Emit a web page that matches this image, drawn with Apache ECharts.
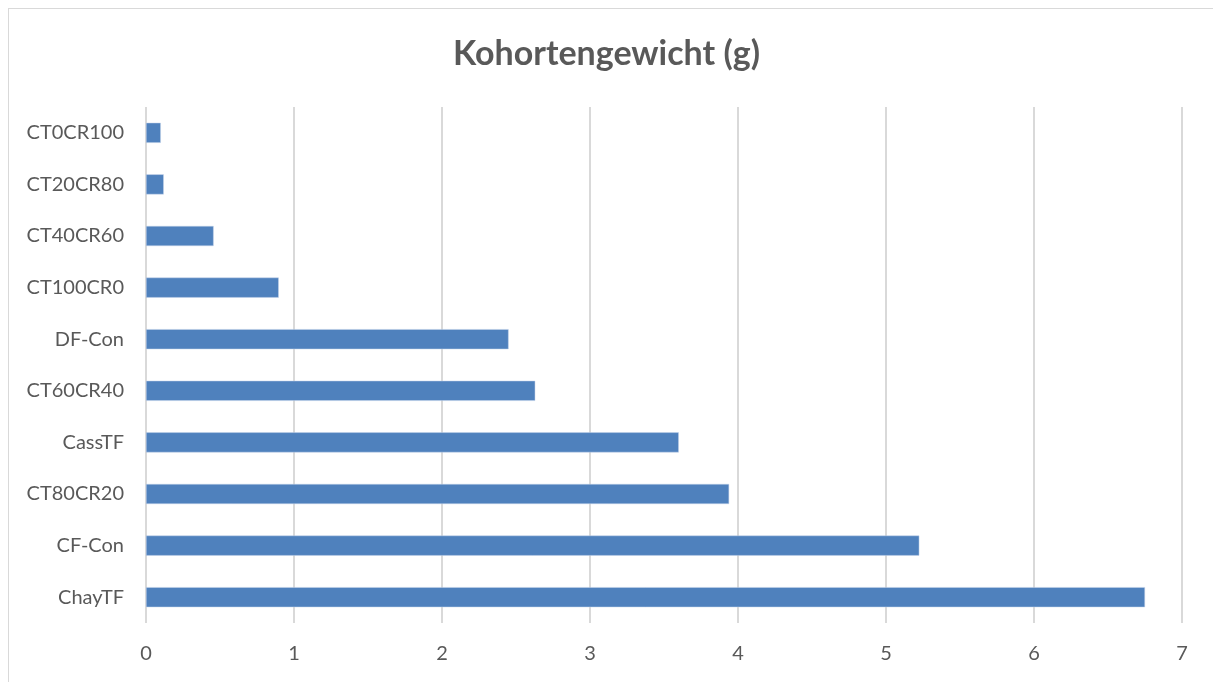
<!DOCTYPE html>
<html>
<head>
<meta charset="utf-8">
<script src="https://cdn.jsdelivr.net/npm/echarts@6/dist/echarts.min.js"></script>
<style>
  html, body { margin: 0; padding: 0; background: #fff; }
  #frame { position: absolute; left: 8px; top: 8px; width: 1220px; height: 690px; border: 1px solid #d9d9d9; box-sizing: border-box; }
  #chart { position: absolute; left: 0; top: 0; width: 1213px; height: 682px; }
</style>
</head>
<body>
<div id="frame"></div>
<div id="chart"></div>
<script>
// categories, bottom to top (as the y axis draws them)
const categories = ['ChayTF', 'CF-Con', 'CT80CR20', 'CassTF', 'CT60CR40', 'DF-Con', 'CT100CR0', 'CT40CR60', 'CT20CR80', 'CT0CR100'];
const weights = [6.75, 5.225, 3.94, 3.60, 2.63, 2.45, 0.897, 0.457, 0.12, 0.10];
const xTicks = [0, 1, 2, 3, 4, 5, 6, 7];

let myChart = echarts.init(document.getElementById('chart'));
myChart.setOption({
  animation: false,
  title: {
    text: 'Kohortengewicht (g)',
    left: 'center',
    top: 32,
    textStyle: { fontFamily: 'Lato', fontSize: 34, fontWeight: 'bold', color: '#595959' }
  },
  grid: { left: 146, right: 31, top: 107, bottom: 59 },
  xAxis: {
    type: 'value',
    min: xTicks[0],
    max: xTicks[xTicks.length - 1],
    interval: 1,
    axisLine: { show: false },
    axisTick: { show: false },
    axisLabel: { color: '#595959', fontSize: 20, fontFamily: 'Lato', margin: 21 },
    splitLine: { show: true, lineStyle: { color: '#d9d9d9', width: 2 } }
  },
  yAxis: {
    type: 'category',
    data: categories,
    axisLine: { show: false },
    axisTick: { show: false },
    axisLabel: { color: '#595959', fontSize: 20, fontFamily: 'Lato', margin: 22 }
  },
  series: [
    {
      type: 'bar',
      data: weights,
      barCategoryGap: '61%',
      itemStyle: { color: '#4f81bd', borderColor: '#c6d5ea', borderWidth: 0.5 }
    }
  ]
});
</script>
</body>
</html>
